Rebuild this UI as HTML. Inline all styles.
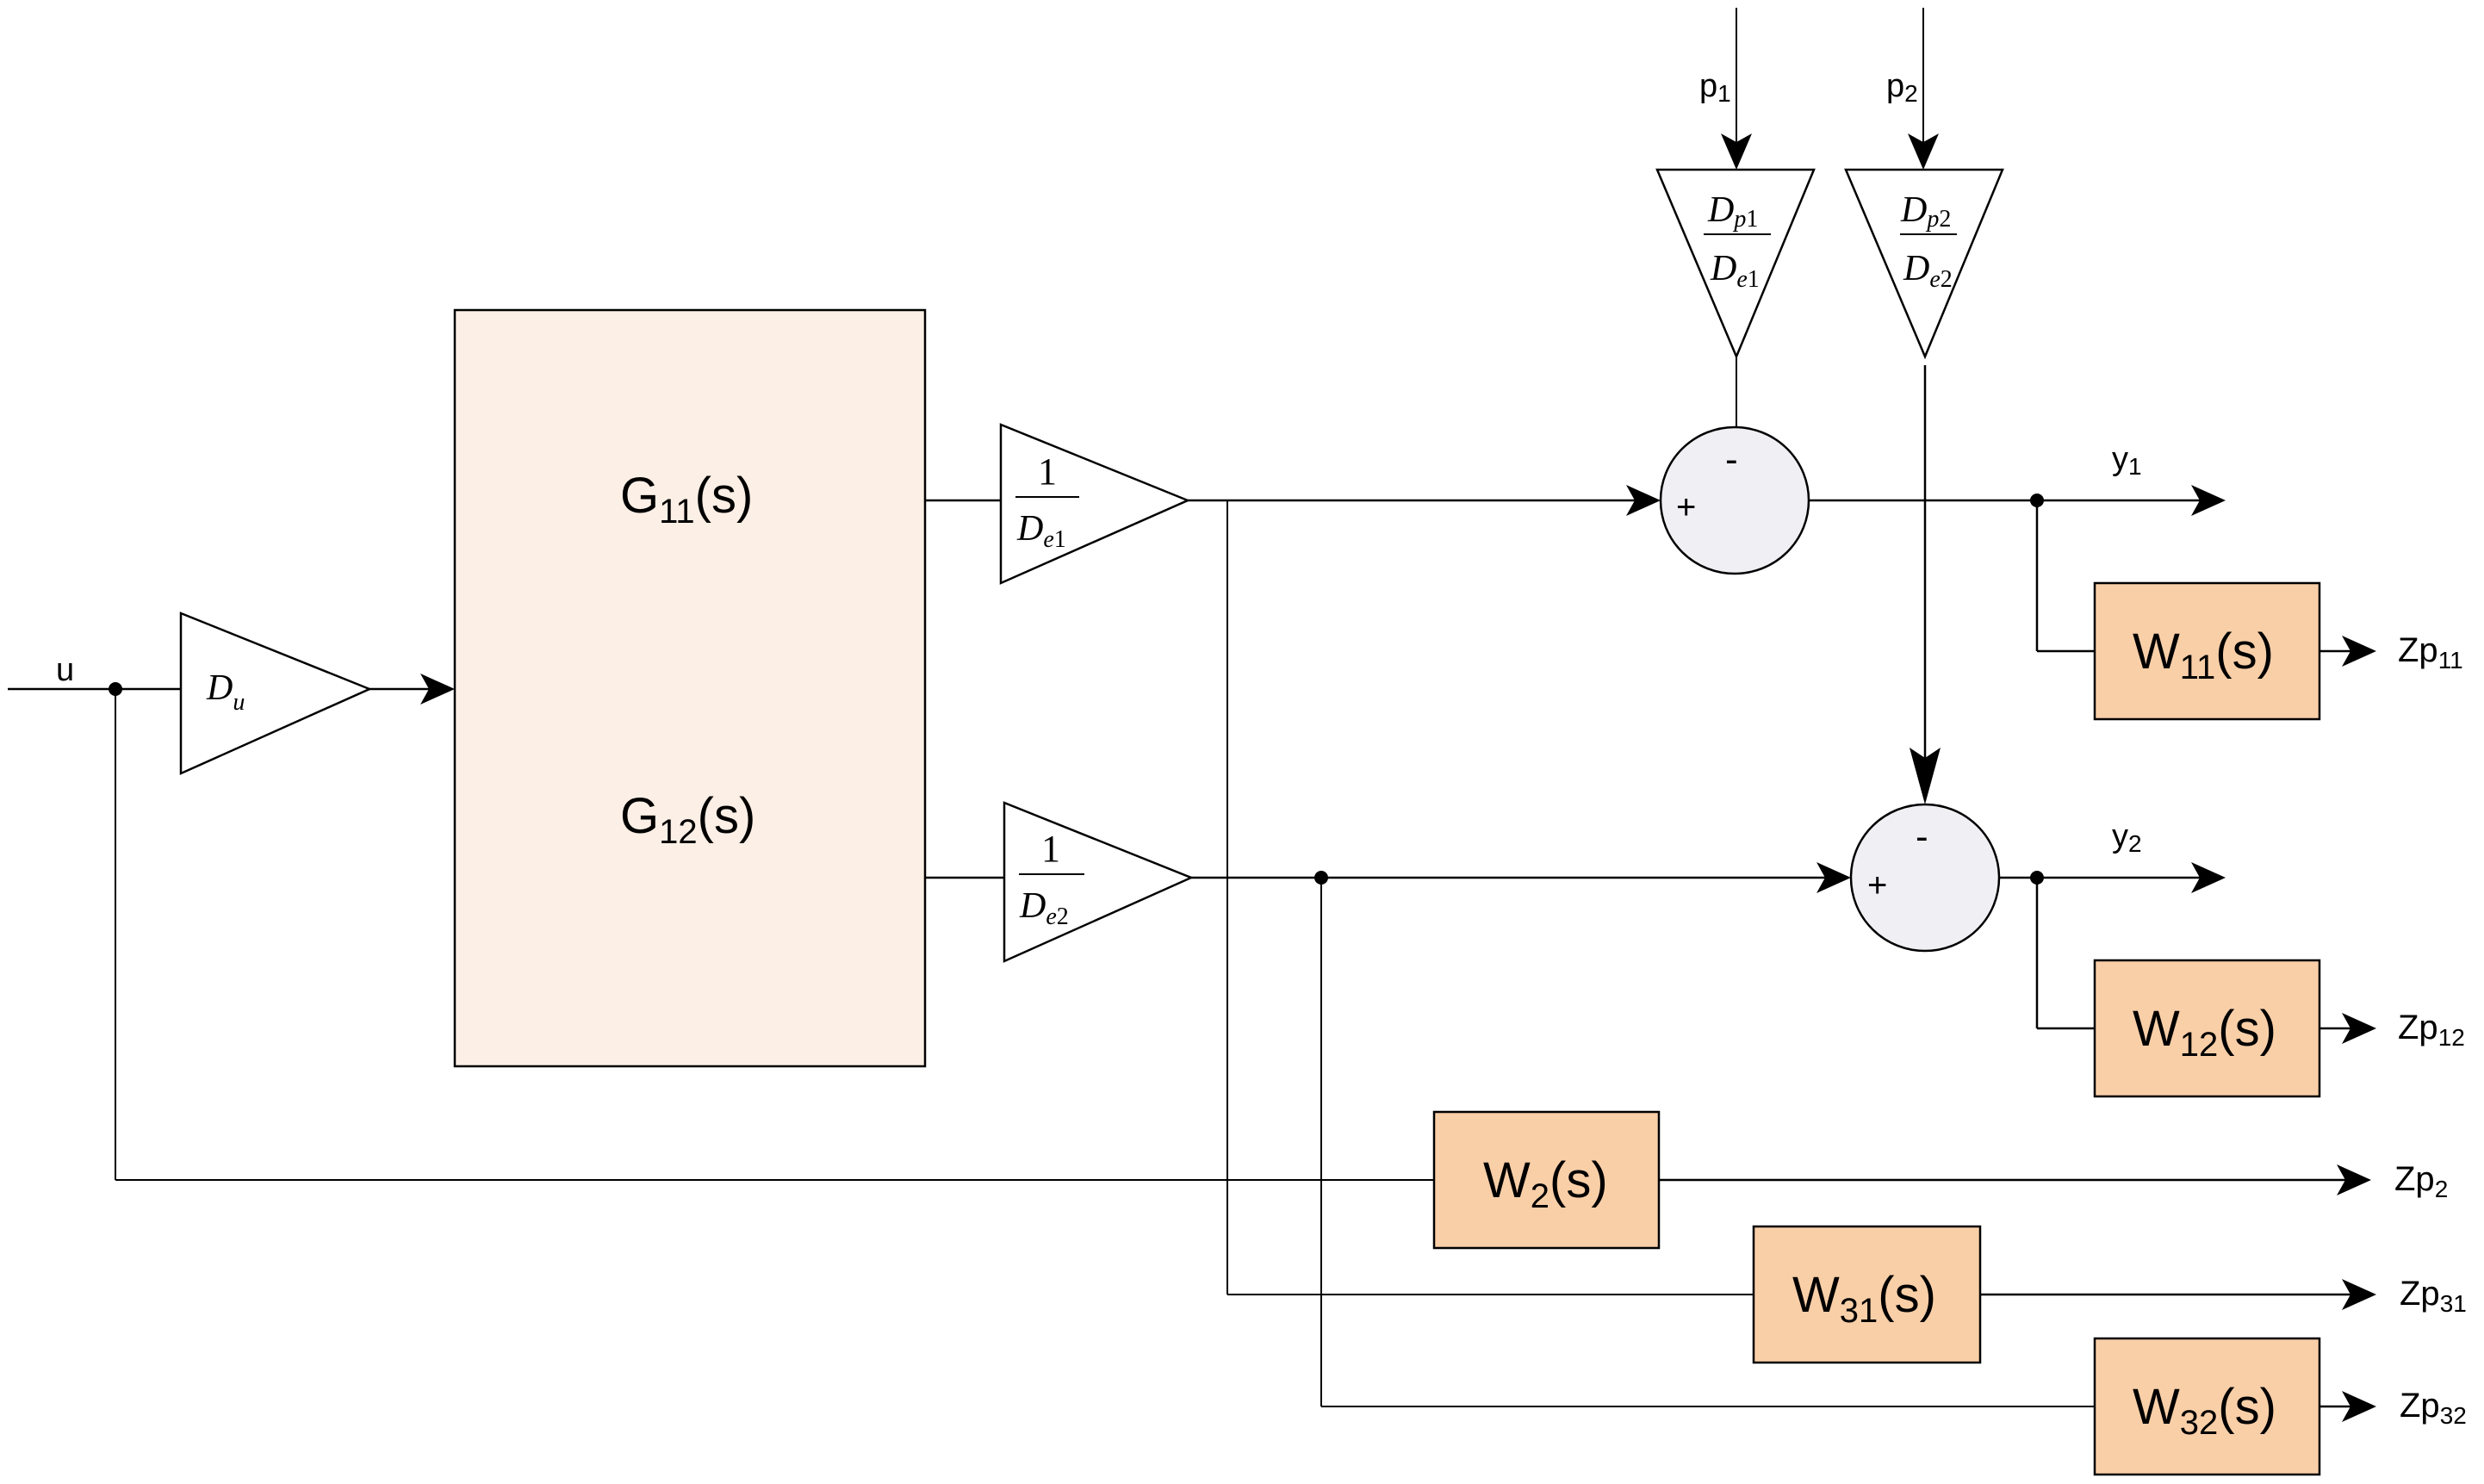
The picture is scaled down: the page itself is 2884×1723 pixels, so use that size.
<!DOCTYPE html>
<html><head><meta charset="utf-8"><style>
html,body{margin:0;padding:0;background:#fff}
svg{display:block}
text{font-family:"Liberation Sans",sans-serif;fill:#000}
.m{font-family:"Liberation Serif",serif;font-style:italic}
.n{font-style:normal}
</style></head><body>
<svg width="2884" height="1723" viewBox="0 0 2884 1723" xmlns="http://www.w3.org/2000/svg">
<g stroke="#000" stroke-width="2.5" fill="none">
<rect x="528" y="360" width="546" height="878" fill="#fcefe5"/>
<line x1="9" y1="800" x2="210" y2="800"/>
<line x1="134" y1="800" x2="134" y2="1370" stroke-width="2"/>
<line x1="134" y1="1370" x2="1665" y2="1370" stroke-width="2"/>
<polygon points="210,712 429,800 210,898" fill="#fff"/>
<line x1="429" y1="800" x2="500" y2="800"/>
<line x1="1074" y1="581" x2="1162" y2="581"/>
<line x1="1074" y1="1019" x2="1166" y2="1019"/>
<polygon points="1162,493 1379,581 1162,677" fill="#fff"/>
<polygon points="1166,932 1383,1019 1166,1116" fill="#fff"/>
<line x1="1379" y1="581" x2="1900" y2="581"/>
<line x1="1383" y1="1019" x2="2120" y2="1019"/>
<line x1="1425" y1="581" x2="1425" y2="1503" stroke-width="2"/>
<line x1="1425" y1="1503" x2="2036" y2="1503" stroke-width="2"/>
<line x1="1534" y1="1019" x2="1534" y2="1633" stroke-width="2"/>
<line x1="1534" y1="1633" x2="2432" y2="1633" stroke-width="2"/>
<line x1="2016" y1="9" x2="2016" y2="170" stroke-width="2"/>
<line x1="2233" y1="9" x2="2233" y2="170" stroke-width="2"/>
<polygon points="1924,197 2106,197 2016,414" fill="#fff"/>
<polygon points="2143,197 2325,197 2235,414" fill="#fff"/>
<line x1="2016" y1="414" x2="2016" y2="496" stroke-width="2"/>
<line x1="2235" y1="424" x2="2235" y2="905"/>
<ellipse cx="2014" cy="581" rx="86" ry="85" fill="#efeff4"/>
<ellipse cx="2235" cy="1019" rx="86" ry="85" fill="#efeff4"/>
<line x1="2100" y1="581" x2="2560" y2="581"/>
<line x1="2321" y1="1019" x2="2560" y2="1019"/>
<line x1="2365" y1="581" x2="2365" y2="756"/>
<line x1="2365" y1="756" x2="2432" y2="756"/>
<line x1="2365" y1="1019" x2="2365" y2="1194"/>
<line x1="2365" y1="1194" x2="2432" y2="1194"/>
<rect x="2432" y="677" width="261" height="158" fill="#f9cfa8"/>
<rect x="2432" y="1115" width="261" height="158" fill="#f9cfa8"/>
<rect x="1665" y="1291" width="261" height="158" fill="#f9cfa8"/>
<rect x="2036" y="1424" width="263" height="158" fill="#f9cfa8"/>
<rect x="2432" y="1554" width="261" height="158" fill="#f9cfa8"/>
<line x1="2693" y1="756" x2="2735" y2="756"/>
<line x1="2693" y1="1194" x2="2735" y2="1194"/>
<line x1="1926" y1="1370" x2="2730" y2="1370"/>
<line x1="2299" y1="1503" x2="2735" y2="1503"/>
<line x1="2693" y1="1633" x2="2735" y2="1633"/>
<line x1="1179" y1="577" x2="1253" y2="577" stroke-width="2"/>
<line x1="1183" y1="1015" x2="1259" y2="1015" stroke-width="2"/>
<line x1="1978" y1="272" x2="2056" y2="272" stroke-width="2"/>
<line x1="2206" y1="272" x2="2272" y2="272" stroke-width="2"/>
</g>
<g fill="#000">
<circle cx="134" cy="800" r="8"/>
<circle cx="1534" cy="1019" r="8"/>
<circle cx="2365" cy="581" r="8"/>
<circle cx="2365" cy="1019" r="8"/>
<path d="M528 800 L488 782 L498 800 L488 818 Z"/>
<path d="M1928 581 L1888 563 L1898 581 L1888 599 Z"/>
<path d="M2149 1019 L2109 1001 L2119 1019 L2109 1037 Z"/>
<path d="M2584 581 L2544 563 L2554 581 L2544 599 Z"/>
<path d="M2584 1019 L2544 1001 L2554 1019 L2544 1037 Z"/>
<path d="M2759 756 L2719 738 L2729 756 L2719 774 Z"/>
<path d="M2759 1194 L2719 1176 L2729 1194 L2719 1212 Z"/>
<path d="M2753 1370 L2713 1352 L2723 1370 L2713 1388 Z"/>
<path d="M2759 1503 L2719 1485 L2729 1503 L2719 1521 Z"/>
<path d="M2759 1633 L2719 1615 L2729 1633 L2719 1651 Z"/>
<path d="M2016 197 L1998 155 L2016 165 L2034 155 Z"/>
<path d="M2233 197 L2215 155 L2233 165 L2251 155 Z"/>
<path d="M2235 934 L2217 868 L2235 880 L2253 868 Z"/>
</g>
<text x="65" y="790" font-size="38">u</text>
<text x="240" y="812" class="m" font-size="42">D<tspan font-size="28" dy="12">u</tspan></text>
<text x="720" y="595" font-size="58">G<tspan font-size="40" dy="12">11</tspan><tspan dy="-12">(s)</tspan></text>
<text x="720" y="967" font-size="58">G<tspan font-size="40" dy="12">12</tspan><tspan dy="-12">(s)</tspan></text>
<text x="1205" y="562" class="m n" font-size="44">1</text>
<text x="1181" y="627" class="m" font-size="42">D<tspan font-size="28" dy="8">e</tspan><tspan class="n" font-size="28">1</tspan></text>
<text x="1209" y="1000" class="m n" font-size="44">1</text>
<text x="1184" y="1065" class="m" font-size="42">D<tspan font-size="28" dy="8">e</tspan><tspan class="n" font-size="28">2</tspan></text>
<text x="1983" y="257" class="m" font-size="42">D<tspan font-size="28" dy="6">p</tspan><tspan class="n" font-size="28">1</tspan></text>
<text x="1986" y="325" class="m" font-size="42">D<tspan font-size="28" dy="8">e</tspan><tspan class="n" font-size="28">1</tspan></text>
<text x="2207" y="257" class="m" font-size="42">D<tspan font-size="28" dy="6">p</tspan><tspan class="n" font-size="28">2</tspan></text>
<text x="2210" y="325" class="m" font-size="42">D<tspan font-size="28" dy="8">e</tspan><tspan class="n" font-size="28">2</tspan></text>
<text x="1973" y="112" font-size="38">p<tspan font-size="28" dy="6">1</tspan></text>
<text x="2190" y="112" font-size="38">p<tspan font-size="28" dy="6">2</tspan></text>
<text x="2003" y="548" font-size="44">-</text>
<text x="1946" y="602" font-size="40">+</text>
<text x="2224" y="986" font-size="44">-</text>
<text x="2168" y="1041" font-size="40">+</text>
<text x="2452" y="545" font-size="38">y<tspan font-size="28" dy="6">1</tspan></text>
<text x="2452" y="983" font-size="38">y<tspan font-size="28" dy="6">2</tspan></text>
<text x="2476" y="776" font-size="58">W<tspan font-size="40" dy="12">11</tspan><tspan dy="-12">(s)</tspan></text>
<text x="2476" y="1214" font-size="58">W<tspan font-size="40" dy="12">12</tspan><tspan dy="-12">(s)</tspan></text>
<text x="1722" y="1390" font-size="58">W<tspan font-size="40" dy="12">2</tspan><tspan dy="-12">(s)</tspan></text>
<text x="2081" y="1523" font-size="58">W<tspan font-size="40" dy="12">31</tspan><tspan dy="-12">(s)</tspan></text>
<text x="2476" y="1653" font-size="58">W<tspan font-size="40" dy="12">32</tspan><tspan dy="-12">(s)</tspan></text>
<text x="2784" y="768" font-size="40">Zp<tspan font-size="28" dy="8">11</tspan></text>
<text x="2784" y="1206" font-size="40">Zp<tspan font-size="28" dy="8">12</tspan></text>
<text x="2780" y="1382" font-size="40">Zp<tspan font-size="28" dy="8">2</tspan></text>
<text x="2786" y="1515" font-size="40">Zp<tspan font-size="28" dy="8">31</tspan></text>
<text x="2786" y="1645" font-size="40">Zp<tspan font-size="28" dy="8">32</tspan></text>
</svg>
</body></html>
